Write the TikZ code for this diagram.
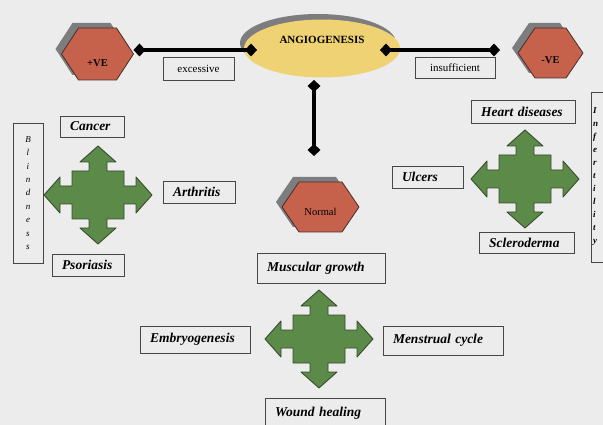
\documentclass[tikz,border=0pt]{standalone}
\usepackage{fontspec}
\setmainfont{Liberation Serif}
\usetikzlibrary{arrows.meta,shapes.geometric}

\definecolor{paper}{RGB}{236,236,236}
\definecolor{boxline}{RGB}{70,70,70}
\definecolor{hexred}{RGB}{198,98,76}
\definecolor{hexline}{RGB}{70,45,40}
\definecolor{shade}{RGB}{125,125,128}
\definecolor{angyellow}{RGB}{238,210,115}
\definecolor{crossgreen}{RGB}{92,138,72}
\definecolor{crossline}{RGB}{55,75,45}

\tikzset{
  box/.style={draw=boxline, line width=0.8pt, inner xsep=10pt, inner ysep=1pt,
    outer sep=0pt, align=left},
  bi/.style={font=\bfseries\itshape\fontsize{13.5}{15}\selectfont},
  plain/.style={font=\fontsize{11}{13}\selectfont, align=center},
  link/.style={line width=4pt, draw=black,
    {Diamond[length=12pt,width=13pt]}-{Diamond[length=12pt,width=13pt]}},
  hexface/.style={fill=hexred, draw=hexline, line width=0.8pt, line join=round},
  hexshade/.style={fill=shade},
  hextext/.style={inner sep=0pt, outer sep=0pt, text depth=0pt,
    font=\bfseries\fontsize{10.5}{12}\selectfont},
  crossbody/.style={fill=crossgreen, draw=crossline, line width=0.9pt, line join=round},
  % four-way arrow around a square body
  plusarrow/.pic={
    \filldraw[crossbody]
      (0,-49) -- (18,-33) -- (9,-33) -- (9,-24) -- (26,-24) -- (26,-9)
      -- (38,-9) -- (38,-18) -- (54,0) -- (38,18) -- (38,9) -- (26,9)
      -- (26,24) -- (9,24) -- (9,33) -- (18,33) -- (0,49) -- (-18,33)
      -- (-9,33) -- (-9,24) -- (-26,24) -- (-26,9) -- (-38,9) -- (-38,18)
      -- (-54,0) -- (-38,-18) -- (-38,-9) -- (-26,-9) -- (-26,-24)
      -- (-9,-24) -- (-9,-33) -- (-18,-33) -- cycle;
  }
}

% hexagon with a grey offset shade; #1 name, #2 x, #3 y, #4 half width,
% #5 half height, #6 text height (moves the label down), #7 label
\newcommand\hexagonat[7]{%
  \begin{scope}[shift={(#2,#3)}]
    \fill[hexshade,shift={(-6,-5)}] (-#4,0) -- (-#4+17,-#5) -- (#4-17,-#5)
      -- (#4,0) -- (#4-17,#5) -- (-#4+17,#5) -- cycle;
    \filldraw[hexface] (-#4,0) -- (-#4+17,-#5) -- (#4-17,-#5)
      -- (#4,0) -- (#4-17,#5) -- (-#4+17,#5) -- cycle;
    \node[hextext, minimum width=2*#4, minimum height=2*#5, text height=#6]
      (#1) at (0,0) {#7};
  \end{scope}}

\begin{document}
\begin{tikzpicture}[x=1pt,y=-1pt]
\useasboundingbox (0,0) rectangle (603,425);
\fill[paper] (0,0) rectangle (603,425);
\clip (0,0) rectangle (603,425);

% central ellipse
\node[ellipse, fill=shade, minimum width=156pt, minimum height=58pt, inner sep=0pt]
  (angshade) at (318,43) {};
\node[ellipse, fill=angyellow, minimum width=156pt, minimum height=58pt, inner sep=0pt]
  (ang) at (322,48.5) {};
\node[font=\bfseries\fontsize{11}{13}\selectfont] (angtext) at (322,40) {ANGIOGENESIS};

% hexagons
\hexagonat{hexL}{97.5}{54}{36}{26}{25pt}{+VE}
\hexagonat{hexR}{550.5}{53}{32.5}{25}{21pt}{-VE}
\hexagonat{hexN}{320.5}{207}{38.5}{25}{17pt}{\mdseries Normal}

% connectors
\coordinate (angL) at (257,50);
\coordinate (angR) at (380,50);
\coordinate (angB) at (314,80);
\draw[link] (hexL.east |- angL) -- (angL);
\draw[link, shorten >=18pt] (angR) -- (hexR.west |- angR);
\draw[link, shorten >=26pt] (angB) -- (angB |- hexN.north);

% connector labels
\node[box, plain, inner xsep=0pt, minimum width=71pt, minimum height=23pt]
  (exc) at (198.5,68.5) {excessive};
\node[box, plain, inner xsep=0pt, minimum width=80pt, minimum height=21pt]
  (insuf) at (455,67.5) {insufficient};

% four-way arrows
\pic (crossL) at (98,195) {plusarrow};
\pic (crossR) at (525,179) {plusarrow};
\pic (crossM) at (319,339) {plusarrow};

% excessive group
\node[box, bi, text width=44pt, minimum height=21pt] (cancer) at (92,126.5) {Cancer};
\node[box, bi, text width=52pt, minimum height=22pt] (arthr) at (199,192) {Arthritis};
\node[box, bi, text width=52pt, minimum height=22pt] (psor) at (88,265) {Psoriasis};
\node[box, inner xsep=2pt, minimum width=30pt, minimum height=140pt, align=center,
  font=\itshape\fontsize{9}{13.4}\selectfont]
  (blind) at (28,193) {B\\l\\i\\n\\d\\n\\e\\s\\s};

% insufficient group
\node[box, bi, text width=84pt, minimum height=23pt] (heart) at (523,111.5) {Heart diseases};
\node[box, bi, text width=51pt, minimum height=22pt] (ulcers) at (427.5,177) {Ulcers};
\node[box, bi, text width=75pt, minimum height=21pt] (sclero) at (526.5,242.5) {Scleroderma};
\node[box, anchor=north west, inner xsep=2pt, text width=24pt, minimum height=170pt,
  align=left, font=\bfseries\itshape\fontsize{9}{13}\selectfont]
  (infert) at (591,92) {I\\n\\f\\e\\r\\t\\i\\l\\i\\t\\y};

% normal group
\node[box, bi, text width=108pt, minimum height=30pt] (muscle) at (321,268) {Muscular growth};
\node[box, bi, text width=90pt, minimum height=27pt] (embryo) at (195,339.5) {Embryogenesis};
\node[box, bi, text width=100pt, minimum height=29pt] (menst) at (443,340.5) {Menstrual cycle};
\node[box, bi, text width=100pt, minimum height=30pt] (wound) at (325,413) {Wound healing};
\end{tikzpicture}
\end{document}
